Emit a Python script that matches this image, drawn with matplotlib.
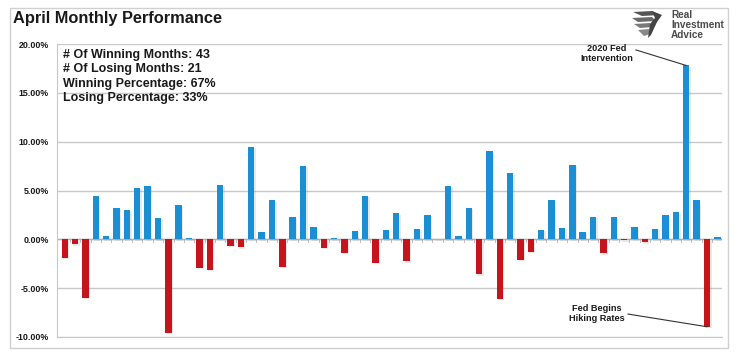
import matplotlib
matplotlib.use("Agg")
import matplotlib.pyplot as plt
import matplotlib.patheffects as pe
from matplotlib.patches import Rectangle, Polygon
from matplotlib.ticker import FuncFormatter

# Colours
BLUE = "#1a8fd3"
RED = "#c4151c"
GRID = "#c8c8c8"
TEXT = "#1a1a1a"

# April returns (%), one bar per year
april_returns = [
    -1.9, -0.5, -6.0, 4.4, 0.3, 3.2, 3.0, 5.3, 5.5, 2.2,
    -9.55, 3.5, 0.15, -2.9, -3.15, 5.6, -0.65, -0.8, 9.45, 0.8,
    4.0, -2.8, 2.3, 7.5, 1.3, -0.85, 0.1, -1.4, 0.9, 4.45,
    -2.4, 1.0, 2.65, -2.25, 1.1, 2.5, 0.05, 5.45, 0.3, 3.2,
    -3.6, 9.0, -6.1, 6.75, -2.1, -1.3, 1.0, 4.05, 1.15, 7.6,
    0.75, 2.3, -1.45, 2.25, -0.1, 1.3, -0.3, 1.1, 2.5, 2.75,
    17.8, 4.0, -8.95, 0.25,
]
y_ticks = [-10, -5, 0, 5, 10, 15, 20]
stats_lines = [
    "# Of Winning Months: 43",
    "# Of Losing Months: 21",
    "Winning Percentage: 67%",
    "Losing Percentage: 33%",
]

fig = plt.figure(figsize=(7.4, 3.63), dpi=100)
fig.patch.set_facecolor("white")

# outer frame
fig.patches.append(Rectangle((10 / 740, 1 - 348 / 363), 718 / 740, 340 / 363,
                             transform=fig.transFigure, fill=False,
                             edgecolor="#d0d0d0", linewidth=1.0))

ax = fig.add_axes([57 / 740, 1 - 337 / 363, 665 / 740, 293 / 363])
x = range(len(april_returns))
colors = [BLUE if v >= 0 else RED for v in april_returns]
bars = ax.bar(x, april_returns, width=0.62, color=colors, zorder=3)
for b in bars:
    b.set_path_effects([pe.SimplePatchShadow(offset=(1.0, -1.0), shadow_rgbFace="#888888",
                                             alpha=0.18), pe.Normal()])

ax.set_xlim(-0.75, len(april_returns) - 0.55)
ax.set_ylim(-10, 20)
ax.set_yticks(y_ticks)
ax.yaxis.set_major_formatter(FuncFormatter(lambda v, p: f"{v:.2f}%"))
ax.grid(axis="y", color=GRID, linewidth=1.0, zorder=0)
ax.axhline(0, color="#b0b0b0", linewidth=1.0, zorder=2)
ax.set_xticks([])
for v in [i + 0.5 for i in x]:
    ax.plot([v, v], [0, -0.25], color="#b0b0b0", linewidth=0.6, zorder=2)
for s in ["top", "right"]:
    ax.spines[s].set_visible(False)
ax.spines["left"].set_color(GRID)
ax.spines["bottom"].set_color(GRID)
ax.tick_params(axis="y", length=0, pad=6, labelsize=6.4, labelcolor=TEXT)
for lbl in ax.get_yticklabels():
    lbl.set_fontweight("bold")
    lbl.set_fontfamily("Liberation Sans")

# title and stats
fig.text(13 / 740, 1 - 19 / 363, "April Monthly Performance", fontsize=11.8,
         fontweight="bold", family="Liberation Sans", color=TEXT, va="center")
for i, line in enumerate(stats_lines):
    fig.text(63 / 740, 1 - (55 + 14.3 * i) / 363, line, fontsize=9,
             fontweight="bold", family="Liberation Sans", color=TEXT, va="center")

# annotations
ax.annotate("2020 Fed\nIntervention", xy=(60, 17.8), xytext=(52.3, 19.0),
            fontsize=6.6, fontweight="bold", family="Liberation Sans",
            ha="center", va="center", color=TEXT, linespacing=1.15,
            arrowprops=dict(arrowstyle="-", color="#333333", lw=0.8,
                            shrinkA=0, shrinkB=0, relpos=(1.0, 0.75)))
ax.annotate("Fed Begins\nHiking Rates", xy=(62, -8.95), xytext=(51.4, -7.6),
            fontsize=6.6, fontweight="bold", family="Liberation Sans",
            ha="center", va="center", color=TEXT, linespacing=1.15,
            arrowprops=dict(arrowstyle="-", color="#333333", lw=0.8,
                            shrinkA=0, shrinkB=0, relpos=(1.0, 0.5)))

# logo
def fpt(px, py):
    return (px / 740, 1 - py / 363)

bands = [
    [(633, 12), (652, 11), (660, 15), (642, 16)],
    [(632, 18), (652, 17), (656, 21), (638, 22)],
    [(634, 24), (650, 23), (653, 27), (640, 28)],
    [(638, 30), (649, 29), (650, 34), (644, 36)],
    [(652, 11), (662, 15), (657, 22), (651, 35), (648, 38), (650, 24), (655, 18)],
]
for shade, pts in zip(["#555555", "#6a6a6a", "#7a7a7a", "#888888", "#444444"], bands):
    fig.patches.append(Polygon([fpt(*p) for p in pts], closed=True,
                               transform=fig.transFigure, facecolor=shade,
                               edgecolor="none"))
fig.text(671 / 740, 1 - 25 / 363, "Real\nInvestment\nAdvice", fontsize=7.2,
         fontweight="bold", family="Liberation Sans", color="#4a4a4a",
         va="center", ha="left", linespacing=1.0)

fig.savefig("out.png", dpi=100, facecolor="white")
